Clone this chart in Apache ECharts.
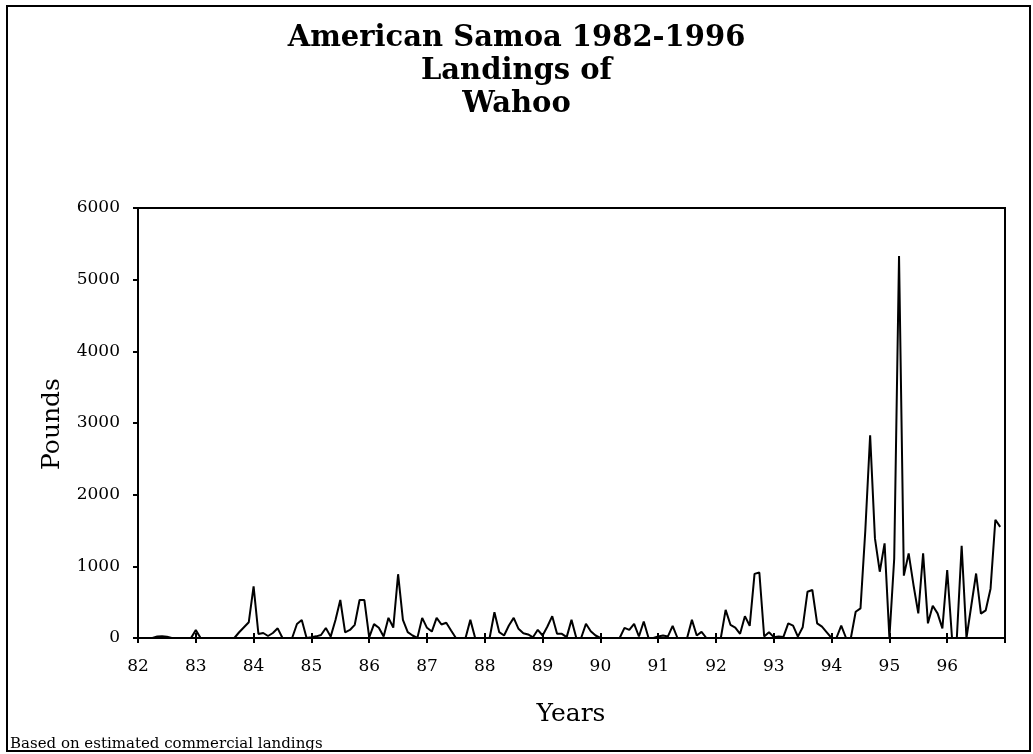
<!DOCTYPE html>
<html>
<head>
<meta charset="utf-8">
<script src="https://cdn.jsdelivr.net/npm/echarts@6/dist/echarts.min.js"></script>
<style>
  html, body { margin: 0; padding: 0; background: #fff; }
  #chart_wahoo { width: 1033px; height: 754px; }
</style>
</head>
<body>
<div id="chart_wahoo"></div>
<script>
  // monthly landings (pounds), Jan..Dec of each year
  const lb82 = [0, 0, 0, 0, 20, 25, 18, 0, 0, 0, 0, 0];
  const lb83 = [110, 0, 0, 0, 0, 0, 0, 0, 0, 80, 150, 220];
  const lb84 = [720, 56, 70, 28, 70, 135, 0, 0, 0, 195, 251, 0];
  const lb85 = [10, 23, 42, 140, 19, 250, 530, 79, 112, 184, 530, 530];
  const lb86 = [10, 193, 142, 20, 281, 146, 890, 253, 81, 35, 0, 281];
  const lb87 = [142, 90, 281, 188, 212, 105, 0, 0, 0, 253, 0, 0];
  const lb88 = [0, 0, 360, 81, 35, 174, 281, 128, 67, 49, 10, 114];
  const lb89 = [35, 160, 305, 58, 58, 12, 253, 0, 0, 198, 95, 35];
  const lb90 = [0, 0, 0, 0, 0, 142, 114, 198, 21, 230, 0, 0];
  const lb91 = [20, 35, 20, 170, 0, 0, 0, 253, 35, 86, 0, 0];
  const lb92 = [0, 0, 393, 184, 146, 58, 305, 170, 895, 914, 21, 81];
  const lb93 = [12, 20, 15, 205, 172, 19, 149, 646, 670, 205, 158, 79];
  const lb94 = [0, 0, 172, 0, 0, 367, 414, 1500, 2830, 1390, 925, 1320];
  const lb95 = [0, 1110, 5330, 870, 1181, 740, 344, 1181, 205, 451, 344, 135];
  const lb96 = [949, 0, 0, 1288, 0, 450, 900, 340, 386, 688, 1650, 1550];

  const yearLabels = ['82', '83', '84', '85', '86', '87', '88', '89', '90', '91', '92', '93', '94', '95', '96'];
  const yearSeries = [lb82, lb83, lb84, lb85, lb86, lb87, lb88, lb89, lb90, lb91, lb92, lb93, lb94, lb95, lb96];

  let seriesData = [];
  yearSeries.forEach(function (arr, k) {
    arr.forEach(function (v, m) {
      seriesData.push([82 + k + m / 12, v]);
    });
  });

  const serif = 'DejaVu Serif';
  let chart = echarts.init(document.getElementById('chart_wahoo'));
  let option = {
    backgroundColor: '#fff',
    animation: false,
    title: {
      text: 'American Samoa 1982-1996\nLandings of\nWahoo',
      left: 'center',
      top: 17,
      textStyle: {
        fontFamily: serif,
        fontWeight: 'bold',
        fontSize: 29,
        lineHeight: 33,
        color: '#000'
      }
    },
    grid: {
      left: 138,
      right: 28,
      top: 208,
      bottom: 116,
      show: true,
      borderColor: '#000',
      borderWidth: 2,
      backgroundColor: 'transparent'
    },
    xAxis: [
      {
        type: 'value',
        min: 82,
        max: 97,
        interval: 1,
        axisLine: { show: true, lineStyle: { color: '#000', width: 2 } },
        axisTick: { show: true, length: 5, lineStyle: { color: '#000', width: 2 } },
        axisLabel: {
          margin: 20,
          fontFamily: serif,
          fontSize: 17,
          color: '#000',
          formatter: function (value) {
            return yearLabels[value - 82] || '';
          }
        },
        splitLine: { show: false }
      },
      {
        // inward half of the crossing ticks
        type: 'value',
        position: 'bottom',
        min: 82,
        max: 97,
        interval: 1,
        axisLine: { show: false },
        axisTick: { show: true, inside: true, length: 5, lineStyle: { color: '#000', width: 2 } },
        axisLabel: { show: false },
        splitLine: { show: false }
      }
    ],
    yAxis: {
      type: 'value',
      min: 0,
      max: 6000,
      interval: 1000,
      axisLine: { show: true, lineStyle: { color: '#000', width: 2 } },
      axisTick: { show: true, length: 5, lineStyle: { color: '#000', width: 2 } },
      axisLabel: {
        margin: 18,
        fontFamily: serif,
        fontSize: 17,
        color: '#000',
        formatter: function (value) {
          return String(value);
        }
      },
      splitLine: { show: false }
    },
    graphic: [
      {
        type: 'rect',
        shape: { x: 7, y: 6, width: 1023, height: 745 },
        style: { fill: null, stroke: '#000', lineWidth: 2 },
        silent: true
      },
      {
        type: 'text',
        x: 52,
        y: 424,
        rotation: Math.PI / 2,
        style: {
          text: 'Pounds',
          fontFamily: serif,
          fontSize: 25,
          fill: '#000',
          align: 'center',
          verticalAlign: 'middle'
        }
      },
      {
        type: 'text',
        x: 571,
        y: 714,
        style: {
          text: 'Years',
          fontFamily: serif,
          fontSize: 25,
          fill: '#000',
          align: 'center',
          verticalAlign: 'middle'
        }
      },
      {
        type: 'text',
        x: 10,
        y: 744,
        style: {
          text: 'Based on estimated commercial landings',
          fontFamily: serif,
          fontSize: 15,
          fill: '#000',
          align: 'left',
          verticalAlign: 'middle'
        }
      }
    ],
    series: [
      {
        name: 'Wahoo',
        type: 'line',
        data: seriesData,
        symbol: 'none',
        smooth: false,
        lineStyle: { color: '#000', width: 2 },
        z: 1
      }
    ]
  };
  chart.setOption(option);
</script>
</body>
</html>
